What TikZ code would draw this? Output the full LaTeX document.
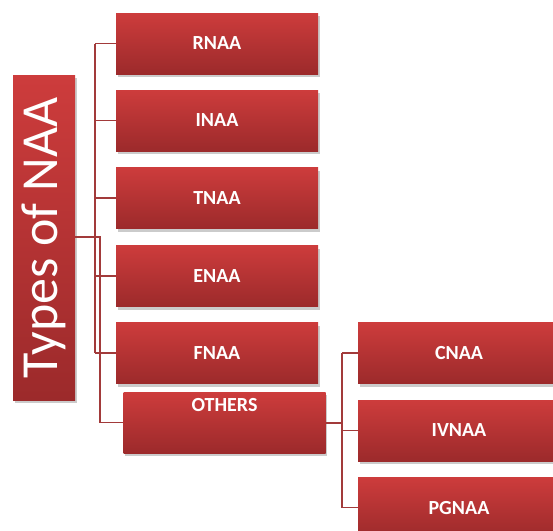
\documentclass[tikz,border=0pt]{standalone}
\usepackage{fontspec}
\setmainfont{Carlito}
\usetikzlibrary{shadows}
\definecolor{boxtop}{HTML}{CD3C3C}
\definecolor{boxbot}{HTML}{9C2A2B}
\definecolor{connc}{HTML}{A23A3A}
\tikzset{
  redbox/.style={rectangle, inner sep=0pt, minimum width=202pt, minimum height=61pt,
    top color=boxtop, bottom color=boxbot, draw=none, text=white,
    font=\fontsize{20}{22}\selectfont\bfseries,
    drop shadow={shadow xshift=1.5pt, shadow yshift=-3pt, fill=black!45, opacity=0.45}},
  titlebox/.style={rectangle, inner sep=0pt, minimum width=62pt, minimum height=325pt,
    top color=boxtop, bottom color=boxbot, draw=none,
    drop shadow={shadow xshift=1.5pt, shadow yshift=-3pt, fill=black!45, opacity=0.45}},
  conn/.style={draw=connc, line width=1.5pt}
}
\begin{document}
\begin{tikzpicture}[x=1pt,y=-1pt]
\useasboundingbox (0,0) rectangle (553,530);
\clip (0,0) rectangle (553,530);
\node[titlebox] (title) at (44,237.5) {};
\node[text=white, rotate=90, font=\fontsize{52}{58}\selectfont] (tt) at (44,238) {Types of NAA};
\node[redbox] (r) at (217,43.5) {RNAA};
\node[redbox] (i) at (217,120.5) {INAA};
\node[redbox] (t) at (217,198) {TNAA};
\node[redbox] (e) at (217,276) {ENAA};
\node[redbox] (f) at (217,353) {FNAA};
\node[redbox, label={[anchor=north, text=white, font=\fontsize{20}{22}\selectfont\bfseries, yshift=-3pt]north:OTHERS}] (o) at (224.5,422.5) {};
\node[redbox] (c) at (459,353) {CNAA};
\node[redbox] (iv) at (459,430.5) {IVNAA};
\node[redbox] (p) at (459,507.5) {PGNAA};
\coordinate (j1) at (95,237);
\coordinate (j2) at (100,237);
\coordinate (j3) at (342,423);
\draw[conn] (title.east |- j1) -- (j2) -- (j2 |- o.west) -- (o.west);
\draw[conn] (j1 |- r.west) -- (j1 |- f.west);
\foreach \n in {r,i,t,e,f}{\draw[conn] (j1 |- \n.west) -- (\n.west);}
\draw[conn] (o.east |- j3) -- (j3);
\draw[conn] (j3 |- c.west) -- (j3 |- p.west);
\foreach \n in {c,iv,p}{\draw[conn] (j3 |- \n.west) -- (\n.west);}
\end{tikzpicture}
\end{document}
